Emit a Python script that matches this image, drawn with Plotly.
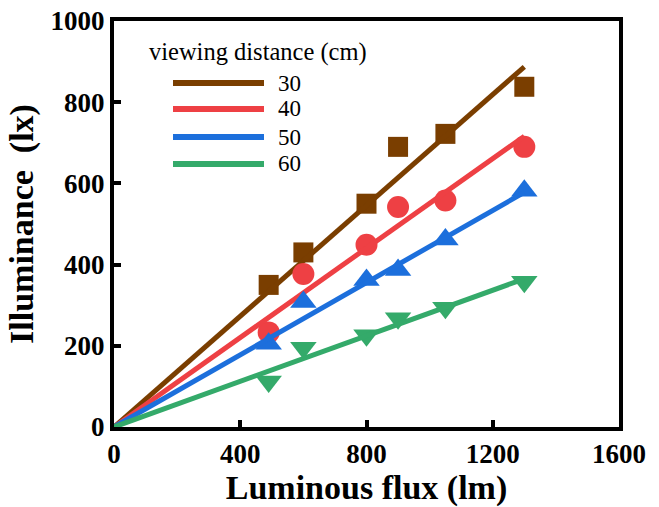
import plotly.graph_objects as go

# ---- data ----
flux = [490, 600, 800, 900, 1050, 1300]
distances = ["30", "40", "50", "60"]
illum_30 = [350, 430, 550, 690, 722, 838]
illum_40 = [233, 377, 449, 542, 558, 690]
illum_50 = [205, 308, 362, 387, 462, 582]
illum_60 = [112, 195, 226, 268, 294, 358]
fit_x = [0, 1300]
fit_30 = [0, 887]
fit_40 = [0, 716]
fit_50 = [0, 578]
fit_60 = [0, 365]

x_ticks = [0, 400, 800, 1200, 1600]
y_ticks = [0, 200, 400, 600, 800, 1000]

colors = ["#7A3E00", "#EE4044", "#1C6FDC", "#34AA6A"]
symbols = ["square", "circle", "triangle-up", "triangle-down"]
sizes = [20, 22, 23, 23]
series = [illum_30, illum_40, illum_50, illum_60]
fits = [fit_30, fit_40, fit_50, fit_60]

FONT = "Times New Roman, Liberation Serif, serif"

fig = go.Figure()
for name, ys, fy, c, s, sz in zip(distances, series, fits, colors, symbols, sizes):
    fig.add_trace(go.Scatter(x=flux, y=ys, mode="markers", name=name,
                             marker=dict(symbol=s, size=sz, color=c, line=dict(width=0)),
                             showlegend=False))
    fig.add_trace(go.Scatter(x=fit_x, y=fy, mode="lines", name=name,
                             line=dict(color=c, width=5), showlegend=False))

# ---- hand-drawn legend (paper coords) ----
L, R, T, B = 114, 619, 21, 427
def px(x):
    return (x - L) / (R - L)
def py(y):
    return (B - y) / (B - T)

fig.add_annotation(x=px(147), y=py(52), xref="paper", yref="paper", text="viewing distance (cm)",
                   showarrow=False, xanchor="left", yanchor="middle",
                   font=dict(family=FONT, size=24.5, color="black"))
leg_y = [83, 109, 137, 164]
for name, c, yy in zip(distances, colors, leg_y):
    fig.add_shape(type="line", xref="paper", yref="paper", x0=px(173), x1=px(264), y0=py(yy), y1=py(yy),
                  line=dict(color=c, width=6))
    fig.add_annotation(x=px(276), y=py(yy), xref="paper", yref="paper", text=name, showarrow=False,
                       xanchor="left", yanchor="middle", font=dict(family=FONT, size=23, color="black"))

axis_common = dict(showgrid=False, zeroline=False, showline=True, linewidth=4, linecolor="black",
                   mirror=True, ticks="inside", ticklen=7, tickwidth=4, tickcolor="black",
                   automargin=False,
                   tickfont=dict(family=FONT, size=27, color="black"))
fig.update_xaxes(range=[0, 1600], tickvals=x_ticks, ticktext=["<b>%d</b>" % v for v in x_ticks],
                 title=dict(text="<b>Luminous flux (lm)</b>", font=dict(family=FONT, size=34, color="black"), standoff=6),
                 **axis_common)
fig.update_yaxes(range=[0, 1000], tickvals=y_ticks, ticktext=["<b>%d</b>" % v for v in y_ticks],
                 title=dict(text="<b>Illuminance  (lx)</b>", font=dict(family=FONT, size=34, color="black"), standoff=8),
                 **axis_common)

fig.update_layout(width=659, height=507, margin=dict(l=L, r=659 - R, t=T, b=507 - B, autoexpand=False),
                  plot_bgcolor="white", paper_bgcolor="white", font=dict(family=FONT))

fig.write_html("out.html")
